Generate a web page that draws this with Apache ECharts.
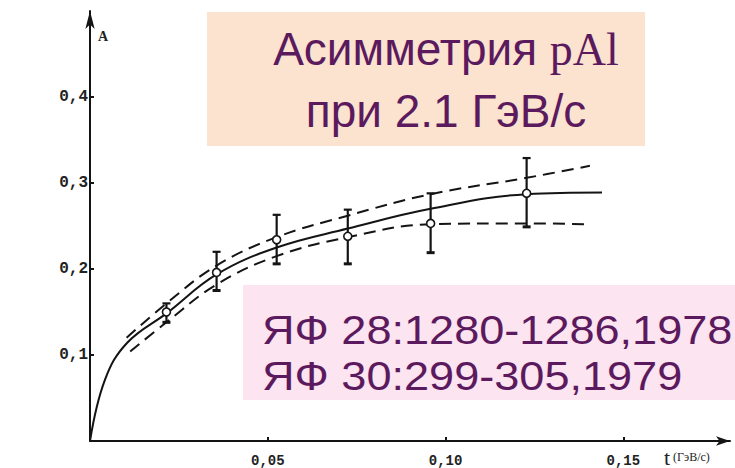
<!DOCTYPE html>
<html>
<head>
<meta charset="utf-8">
<script src="https://cdn.jsdelivr.net/npm/echarts@6/dist/echarts.min.js"></script>
<style>
  html, body { margin: 0; padding: 0; background: #fff; }
  #chart { width: 735px; height: 468px; }
</style>
</head>
<body>
<div id="chart"></div>
<script>
// Measured asymmetry A versus momentum transfer t (GeV/c)^2
const tData = [0.0215, 0.0356, 0.0525, 0.0725, 0.0958, 0.1228];
const aData = [0.150, 0.196, 0.234, 0.238, 0.253, 0.288];
const aLow  = [0.138, 0.175, 0.206, 0.206, 0.219, 0.249];
const aHigh = [0.160, 0.220, 0.263, 0.269, 0.288, 0.329];

// Theoretical curve (solid)
const fitT = [0, 0.0042, 0.0104, 0.0217, 0.0357, 0.0525, 0.0725, 0.0958, 0.1228, 0.144];
const fitA = [0, 0.071, 0.114, 0.149, 0.194, 0.225, 0.247, 0.270, 0.287, 0.289];

// Upper and lower bounds (dashed)
const upT = [0.0103, 0.0215, 0.0356, 0.0525, 0.0725, 0.0958, 0.1228, 0.1406];
const upA = [0.120, 0.160, 0.204, 0.237, 0.262, 0.287, 0.306, 0.320];
const loT = [0.0113, 0.0215, 0.0356, 0.0525, 0.0725, 0.0958, 0.1228, 0.1406];
const loA = [0.104, 0.138, 0.182, 0.215, 0.237, 0.252, 0.253, 0.252];

// Axis ticks
const xTicks = [0.05, 0.10, 0.15];
const xTickLabels = ['0,05', '0,10', '0,15'];
const yTicks = [0.1, 0.2, 0.3, 0.4];
const yTickLabels = ['0,1', '0,2', '0,3', '0,4'];

// Journal references
const refLines = ['ЯФ 28:1280-1286,1978', 'ЯФ 30:299-305,1979'];

const ink = '#141414';
const purple = '#5c1a5e';

const zip = (xs, ys) => xs.map((x, i) => [x, ys[i]]);

const chart = echarts.init(document.getElementById('chart'), null, { renderer: 'svg' });

chart.setOption({
  animation: false,
  backgroundColor: '#ffffff',
  grid: { left: 90, right: 5, top: 11, bottom: 27 },
  xAxis: {
    type: 'value', min: 0, max: 0.18,
    splitLine: { show: false },
    axisLine: { lineStyle: { color: ink, width: 2 }, symbol: ['none', 'arrow'], symbolSize: [7, 14] },
    axisTick: { customValues: xTicks, length: 4, inside: true, lineStyle: { color: ink, width: 2 } },
    axisLabel: {
      customValues: xTicks, margin: 13,
      fontFamily: 'Liberation Mono', fontWeight: 'bold', fontSize: 14, color: '#222',
      formatter: v => xTickLabels[xTicks.findIndex(t => Math.abs(t - v) < 1e-9)] || ''
    },
    name: '{t|t}{u| (ГэВ/с)}',
    nameLocation: 'end', nameGap: -66,
    nameTextStyle: {
      align: 'left', verticalAlign: 'top', padding: [5, 0, 0, 0],
      rich: {
        t: { fontFamily: 'Liberation Serif', fontSize: 22, color: '#222' },
        u: { fontFamily: 'Liberation Serif', fontSize: 12, color: '#222' }
      }
    }
  },
  yAxis: {
    type: 'value', min: 0, max: 0.5,
    splitLine: { show: false },
    axisLine: { lineStyle: { color: ink, width: 2 }, symbol: ['none', 'arrow'], symbolSize: [7, 18] },
    axisTick: { customValues: yTicks, length: 4, inside: true, lineStyle: { color: ink, width: 2 } },
    axisLabel: {
      customValues: yTicks, margin: 2,
      fontFamily: 'Liberation Mono', fontWeight: 'bold', fontSize: 16, color: '#222',
      formatter: v => yTickLabels[yTicks.findIndex(t => Math.abs(t - v) < 1e-9)] || ''
    },
    name: 'A',
    nameLocation: 'end', nameGap: -32,
    nameTextStyle: {
      align: 'left', padding: [0, 0, 0, 8],
      fontFamily: 'Liberation Serif', fontWeight: 'bold', fontSize: 14, color: '#222'
    }
  },
  series: [
    {
      type: 'line', data: zip(fitT, fitA), smooth: 0.4,
      symbol: 'none', lineStyle: { color: ink, width: 2 }, z: 2
    },
    {
      type: 'line', data: zip(upT, upA), smooth: 0.4,
      symbol: 'none', lineStyle: { color: ink, width: 2, type: [12, 7] }, z: 2
    },
    {
      type: 'line', data: zip(loT, loA), smooth: 0.4,
      symbol: 'none', lineStyle: { color: ink, width: 2, type: [12, 7] }, z: 2
    },
    {
      type: 'custom', z: 3,
      data: tData.map((t, i) => [t, aLow[i], aHigh[i]]),
      renderItem: (params, api) => {
        const lo = api.coord([api.value(0), api.value(1)]);
        const hi = api.coord([api.value(0), api.value(2)]);
        const w = 4;
        const st = { stroke: ink, lineWidth: 2.2 };
        return {
          type: 'group',
          children: [
            { type: 'line', shape: { x1: lo[0], y1: lo[1], x2: hi[0], y2: hi[1] }, style: st },
            { type: 'line', shape: { x1: hi[0] - w, y1: hi[1], x2: hi[0] + w, y2: hi[1] }, style: st },
            { type: 'line', shape: { x1: lo[0] - w, y1: lo[1], x2: lo[0] + w, y2: lo[1] }, style: { stroke: ink, lineWidth: 3 } }
          ]
        };
      }
    },
    {
      type: 'scatter', z: 4, data: zip(tData, aData),
      symbol: 'circle', symbolSize: 8,
      itemStyle: { color: '#ffffff', opacity: 1, borderColor: ink, borderWidth: 1.6 }
    }
  ],
  graphic: [
    {
      type: 'rect', z: 0, silent: true,
      shape: { x: 207, y: 12, width: 438, height: 134 },
      style: { fill: '#fbe3cf' }
    },
    {
      type: 'text', z: 1, x: 446, y: 49,
      style: {
        text: '{a|Асимметрия }{b|pAl}', textAlign: 'center', textVerticalAlign: 'middle',
        rich: {
          a: { fontFamily: 'Liberation Sans', fontSize: 46, fill: purple },
          b: { fontFamily: 'Liberation Serif', fontSize: 46, fill: purple }
        }
      }
    },
    {
      type: 'text', z: 1, x: 446, y: 111,
      style: {
        text: 'при 2.1 ГэВ/с', textAlign: 'center', textVerticalAlign: 'middle',
        fontFamily: 'Liberation Sans', fontSize: 46, fill: purple
      }
    },
    {
      type: 'rect', z: 0, silent: true,
      shape: { x: 243, y: 285, width: 492, height: 115 },
      style: { fill: '#fce4f0' }
    },
    ...refLines.map((line, i) => ({
      type: 'text', z: 1, x: 262, y: 330 + i * 46, scaleX: 1.1,
      style: {
        text: line, textAlign: 'left', textVerticalAlign: 'middle',
        fontFamily: 'Liberation Sans', fontSize: 41, fill: purple
      }
    }))
  ]
});
</script>
</body>
</html>
